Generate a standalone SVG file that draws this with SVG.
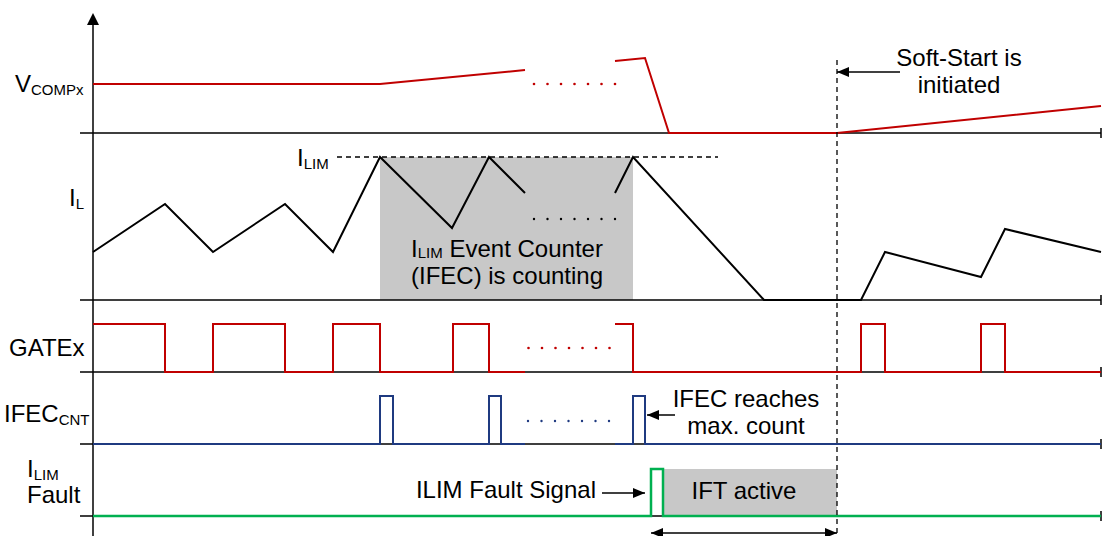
<svg xmlns="http://www.w3.org/2000/svg" width="1102" height="536" viewBox="0 0 1102 536">
<defs>
<marker id="ah" viewBox="0 0 12 10" refX="12" refY="5" markerWidth="12" markerHeight="10" markerUnits="userSpaceOnUse" orient="auto-start-reverse"><path d="M0,0 L12,5 L0,10 z" fill="#000"/></marker>
</defs>
<style>
text { font-family: "Liberation Sans", Arial, sans-serif; font-size: 24px; fill: #000; }
.sub { font-size: 15px; }
.axis { stroke: #000; stroke-width: 1.5; fill: none; }
.red { stroke: #c00000; stroke-width: 2; fill: none; }
.blk { stroke: #000; stroke-width: 2; fill: none; }
.blue { stroke: #1f3a80; stroke-width: 2; fill: none; }
.green { stroke: #00b050; stroke-width: 2.5; fill: none; }
.shade { fill: #c8c8c8; }
.dash { stroke: #000; stroke-width: 1.3; stroke-dasharray: 5 4; fill: none; }
.arrow { stroke: #000; stroke-width: 1.5; fill: none; marker-end: url(#ah); }
.rdot { fill: #c00000; }
.kdot { fill: #000; }
.bdot { fill: #1f3a80; }
</style>
<rect width="1102" height="536" fill="#fff"/>

<g id="shading">
<rect class="shade" x="380" y="157" width="253" height="143"/>
<rect class="shade" x="663" y="469" width="174" height="47"/>
</g>

<g id="axes">
<line class="axis" x1="93" y1="24" x2="93" y2="536"/>
<polygon points="93,13 87,25 99,25" fill="#000"/>
<path class="axis" d="M80,133 H1101 M1101,128 V138"/>
<path class="axis" d="M80,300 H1101 M1101,295 V305"/>
<path class="axis" d="M80,372 H1101 M1101,367 V377"/>
<path class="axis" d="M80,444 H1101 M1101,439 V449"/>
<path class="axis" d="M80,516 H1101 M1101,511 V521"/>
</g>

<g id="labels">
<text x="15" y="92">V<tspan class="sub" dy="3">COMPx</tspan></text>
<text x="69" y="206">I<tspan class="sub" dy="3">L</tspan></text>
<text x="9" y="356">GATEx</text>
<text x="4" y="422">IFEC<tspan class="sub" dy="3">CNT</tspan></text>
<text x="27" y="477">I<tspan class="sub" dy="3">LIM</tspan><tspan x="27" dy="23">Fault</tspan></text>
</g>

<g id="vcomp">
<polyline class="red" points="93,84 380,84 525,70"/>
<polyline class="red" points="615,61 645,58 669,133 837,133 1101,106"/>
<g class="rdot">
<circle cx="534" cy="84" r="1.3"/><circle cx="547.5" cy="84" r="1.3"/><circle cx="561" cy="84" r="1.3"/><circle cx="574.5" cy="84" r="1.3"/><circle cx="588" cy="84" r="1.3"/><circle cx="601.5" cy="84" r="1.3"/><circle cx="615" cy="84" r="1.3"/>
</g>
</g>

<g id="il">
<line class="dash" x1="337" y1="157" x2="718" y2="157"/>
<text x="297" y="166">I<tspan class="sub" dy="3">LIM</tspan></text>
<polyline class="blk" points="93,252 165,204 213,252 285,204 333,252 380,157 452,228 489,157 525,193"/>
<polyline class="blk" points="615,193 633,157 764,300 861,300 885,252 981,277 1005,229 1101,252"/>
<g class="kdot">
<circle cx="534" cy="219" r="1.2"/><circle cx="547.5" cy="219" r="1.2"/><circle cx="561" cy="219" r="1.2"/><circle cx="574.5" cy="219" r="1.2"/><circle cx="588" cy="219" r="1.2"/><circle cx="601.5" cy="219" r="1.2"/><circle cx="615" cy="219" r="1.2"/>
</g>
<text x="507" y="256.5" text-anchor="middle">I<tspan class="sub" dy="1.5">LIM</tspan><tspan dy="-1.5"> Event Counter</tspan><tspan x="507" dy="27">(IFEC) is counting</tspan></text>
</g>

<g id="gatex">
<polyline class="red" points="93,324 165,324 165,372 213,372 213,324 285,324 285,372 333,372 333,324 380,324 380,372 453,372 453,324 489,324 489,372 525,372"/>
<polyline class="red" points="615,324 633,324 633,372 861,372 861,324 885,324 885,372 981,372 981,324 1005,324 1005,372 1101,372"/>
<g class="rdot">
<circle cx="528.5" cy="348" r="1.3"/><circle cx="542" cy="348" r="1.3"/><circle cx="555.5" cy="348" r="1.3"/><circle cx="569" cy="348" r="1.3"/><circle cx="582.5" cy="348" r="1.3"/><circle cx="596" cy="348" r="1.3"/><circle cx="609.5" cy="348" r="1.3"/>
</g>
</g>

<g id="ifec">
<polyline class="blue" points="93,444 380,444 380,396 393,396 393,444 489,444 489,396 501,396 501,444 525,444"/>
<polyline class="blue" points="615,444 633,444 633,396 645,396 645,444 1101,444"/>
<g class="bdot">
<circle cx="528" cy="421" r="1.2"/><circle cx="541.5" cy="421" r="1.2"/><circle cx="555" cy="421" r="1.2"/><circle cx="568.5" cy="421" r="1.2"/><circle cx="582" cy="421" r="1.2"/><circle cx="595.5" cy="421" r="1.2"/><circle cx="609" cy="421" r="1.2"/>
</g>
<text x="746" y="407" text-anchor="middle">IFEC reaches<tspan x="746" dy="27">max. count</tspan></text>
</g>

<g id="ilimfault">
<polyline class="green" points="93,516 651,516 651,469 663,469 663,516 1101,516"/>
<text x="596" y="498" text-anchor="end">ILIM Fault Signal</text>
<text x="744" y="499" text-anchor="middle">IFT active</text>
</g>

<g id="softstart">
<text x="959" y="66" text-anchor="middle">Soft-Start is<tspan x="959" dy="27">initiated</tspan></text>
</g>

<g id="connectors">
<line class="dash" x1="837" y1="60" x2="837" y2="536"/>
<line class="arrow" x1="900" y1="72" x2="837" y2="72"/>
<line class="arrow" x1="675" y1="415" x2="647" y2="415"/>
<line class="arrow" x1="602" y1="493" x2="645" y2="493"/>
<line class="arrow" x1="651" y1="533" x2="837" y2="533" marker-start="url(#ah)"/>
</g>
</svg>
